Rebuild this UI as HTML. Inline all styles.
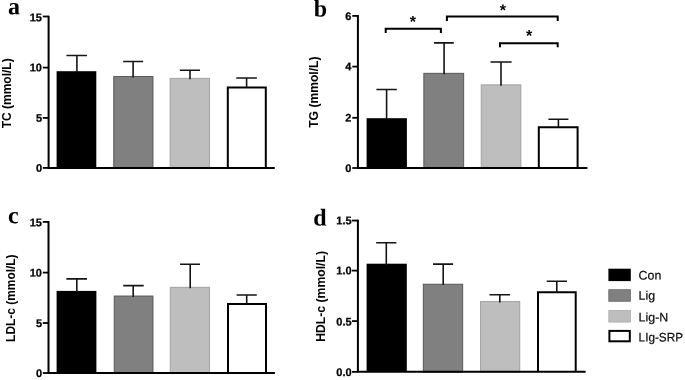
<!DOCTYPE html>
<html><head><meta charset="utf-8"><title>Figure</title>
<style>
html,body{margin:0;padding:0;background:#fff;}
body{width:685px;height:380px;overflow:hidden;}
svg{display:block;will-change:transform;}
text{font-family:"Liberation Sans",Arial,Helvetica,sans-serif;fill:#000;}
.tk{font-size:11px;font-weight:bold;stroke:#000;stroke-width:0.25px;}
.yl{font-size:11.9px;font-weight:bold;}
.pl{font-family:"Liberation Serif","Times New Roman",serif;font-size:24px;font-weight:bold;}
.lg{font-size:12.4px;fill:#0a0a0a;stroke:#0a0a0a;stroke-width:0.2px;}
.st{font-size:16px;font-weight:bold;}
</style></head>
<body>
<svg width="685" height="380" viewBox="0 0 685 380">
<rect width="685" height="380" fill="#fff"/>
<g id="chart-a">
<rect x="56.6" y="71.2" width="39.7" height="96.7" fill="#000"/>
<rect x="113.75" y="76.55" width="39.2" height="91.7" fill="#808080" stroke="#585858" stroke-width="1"/>
<rect x="170.15" y="78.35" width="39.4" height="89.9" fill="#bebebe" stroke="#a2a2a2" stroke-width="1"/>
<path d="M227.8 167.9V87.6H265.8V167.9" fill="#fff" stroke="#000" stroke-width="2" stroke-linejoin="miter"/>
<path d="M66.4 55.5H87M76.9 55.5V72.4" stroke="#151515" stroke-width="1.6" fill="none"/>
<path d="M123.2 61.5H143.2M133.1 61.5V77.4" stroke="#151515" stroke-width="1.6" fill="none"/>
<path d="M179.8 70.2H200M190 70.2V79.2" stroke="#151515" stroke-width="1.6" fill="none"/>
<path d="M236.3 78H256.9M246.6 78V87.8" stroke="#151515" stroke-width="1.6" fill="none"/>
<path d="M48.6 15.65V167.9M47.6 167.9H274.8" stroke="#000" stroke-width="2.0" fill="none"/>
<path d="M42.8 16.5H48.6" stroke="#000" stroke-width="1.8"/>
<text x="42" y="21.35" text-anchor="end" class="tk" transform="rotate(0.04 42 21.35)">15</text>
<path d="M42.8 67.6H48.6" stroke="#000" stroke-width="1.8"/>
<text x="42" y="71.35" text-anchor="end" class="tk" transform="rotate(0.04 42 71.35)">10</text>
<path d="M42.8 117.9H48.6" stroke="#000" stroke-width="1.8"/>
<text x="42" y="121.65" text-anchor="end" class="tk" transform="rotate(0.04 42 121.65)">5</text>
<path d="M42.8 167.9H48.6" stroke="#000" stroke-width="1.8"/>
<text x="42" y="171.65" text-anchor="end" class="tk" transform="rotate(0.04 42 171.65)">0</text>
<text transform="translate(11.2 93.3) rotate(-90)" text-anchor="middle" class="yl" textLength="70" lengthAdjust="spacingAndGlyphs">TC (mmol/L)</text>
<text x="8.0" y="14.25" class="pl" transform="rotate(0.04 8.0 14.25)">a</text>
</g>
<g id="chart-b">
<rect x="366.6" y="118.2" width="40.3" height="49.8" fill="#000"/>
<rect x="423.85" y="73.35" width="39.8" height="95.0" fill="#808080" stroke="#585858" stroke-width="1"/>
<rect x="481.25" y="84.85" width="39.6" height="83.5" fill="#bebebe" stroke="#a2a2a2" stroke-width="1"/>
<path d="M538.8 168.0V127.3H577.6V168.0" fill="#fff" stroke="#000" stroke-width="2" stroke-linejoin="miter"/>
<path d="M376.4 89.5H396.8M386.6 89.5V119.4" stroke="#151515" stroke-width="1.6" fill="none"/>
<path d="M434 42.9H453.8M444.1 42.9V74.2" stroke="#151515" stroke-width="1.6" fill="none"/>
<path d="M490.5 62.0H511.6M501.0 62.0V85.7" stroke="#151515" stroke-width="1.6" fill="none"/>
<path d="M548.4 119.2H568.4M558.4 119.2V127.5" stroke="#151515" stroke-width="1.6" fill="none"/>
<path d="M357.9 15.05V168.0M356.9 168.0H587.4" stroke="#000" stroke-width="2.0" fill="none"/>
<path d="M352.3 15.9H357.9" stroke="#000" stroke-width="1.8"/>
<text x="351.3" y="19.95" text-anchor="end" class="tk" transform="rotate(0.04 351.3 19.95)">6</text>
<path d="M352.3 66.6H357.9" stroke="#000" stroke-width="1.8"/>
<text x="351.3" y="70.35" text-anchor="end" class="tk" transform="rotate(0.04 351.3 70.35)">4</text>
<path d="M352.3 117.8H357.9" stroke="#000" stroke-width="1.8"/>
<text x="351.3" y="121.55" text-anchor="end" class="tk" transform="rotate(0.04 351.3 121.55)">2</text>
<path d="M352.3 168.0H357.9" stroke="#000" stroke-width="1.8"/>
<text x="351.3" y="171.95" text-anchor="end" class="tk" transform="rotate(0.04 351.3 171.95)">0</text>
<text transform="translate(318.3 92.15) rotate(-90)" text-anchor="middle" class="yl" textLength="71.3" lengthAdjust="spacingAndGlyphs">TG (mmol/L)</text>
<text x="313.8" y="16.4" class="pl" transform="rotate(0.04 313.8 16.4)">b</text>
<path d="M385.7 33.0V28.7H440.9V33.0" stroke="#000" stroke-width="2" fill="none" stroke-linejoin="miter"/>
<path d="M446.9 21.0V16.4H557.7V21.0" stroke="#000" stroke-width="2" fill="none" stroke-linejoin="miter"/>
<path d="M500.0 47.3V43.2H557.7V47.3" stroke="#000" stroke-width="2" fill="none" stroke-linejoin="miter"/>
<text x="412.9" y="27.1" text-anchor="middle" class="st" transform="rotate(0.05 412.9 27.1)">*</text>
<text x="502.8" y="15.45" text-anchor="middle" class="st" transform="rotate(0.05 502.8 15.45)">*</text>
<text x="529.2" y="41.05" text-anchor="middle" class="st" transform="rotate(0.05 529.2 41.05)">*</text>
</g>
<g id="chart-c">
<rect x="56.6" y="290.9" width="39.8" height="82.1" fill="#000"/>
<rect x="114.25" y="296.05" width="38.7" height="77.3" fill="#808080" stroke="#585858" stroke-width="1"/>
<rect x="170.25" y="287.35" width="39.3" height="86.0" fill="#bebebe" stroke="#a2a2a2" stroke-width="1"/>
<path d="M228 373.0V303.9H266V373.0" fill="#fff" stroke="#000" stroke-width="2" stroke-linejoin="miter"/>
<path d="M66.4 278.9H87M76.8 278.9V292.1" stroke="#151515" stroke-width="1.6" fill="none"/>
<path d="M123.3 285.6H143.7M133.2 285.6V296.9" stroke="#151515" stroke-width="1.6" fill="none"/>
<path d="M180 264.3H200M190.2 264.3V288.2" stroke="#151515" stroke-width="1.6" fill="none"/>
<path d="M236.6 295.0H256.8M246.7 295.0V304.1" stroke="#151515" stroke-width="1.6" fill="none"/>
<path d="M48.5 221.05V373.0M47.5 373.0H274.9" stroke="#000" stroke-width="2.0" fill="none"/>
<path d="M42.8 221.9H48.5" stroke="#000" stroke-width="1.8"/>
<text x="42" y="226.25" text-anchor="end" class="tk" transform="rotate(0.04 42 226.25)">15</text>
<path d="M42.8 272.6H48.5" stroke="#000" stroke-width="1.8"/>
<text x="42" y="276.45" text-anchor="end" class="tk" transform="rotate(0.04 42 276.45)">10</text>
<path d="M42.8 323.0H48.5" stroke="#000" stroke-width="1.8"/>
<text x="42" y="327.05" text-anchor="end" class="tk" transform="rotate(0.04 42 327.05)">5</text>
<path d="M42.8 373.0H48.5" stroke="#000" stroke-width="1.8"/>
<text x="42" y="377.05" text-anchor="end" class="tk" transform="rotate(0.04 42 377.05)">0</text>
<text transform="translate(15.3 298.15) rotate(-90)" text-anchor="middle" class="yl" textLength="87.5" lengthAdjust="spacingAndGlyphs">LDL-c (mmol/L)</text>
<text x="8.1" y="223.3" class="pl" transform="rotate(0.04 8.1 223.3)">c</text>
</g>
<g id="chart-d">
<rect x="366.6" y="263.7" width="40.2" height="108.15" fill="#000"/>
<rect x="423.35" y="284.25" width="39.3" height="87.95" fill="#808080" stroke="#585858" stroke-width="1"/>
<rect x="480.55" y="301.55" width="39.2" height="70.65" fill="#bebebe" stroke="#a2a2a2" stroke-width="1"/>
<path d="M538.0 371.85V292.2H575.7V371.85" fill="#fff" stroke="#000" stroke-width="2" stroke-linejoin="miter"/>
<path d="M376.2 242.8H396.4M386.3 242.8V264.9" stroke="#151515" stroke-width="1.6" fill="none"/>
<path d="M433 264.1H453.1M443.2 264.1V285.1" stroke="#151515" stroke-width="1.6" fill="none"/>
<path d="M489.5 294.75H510.1M499.8 294.75V302.4" stroke="#151515" stroke-width="1.6" fill="none"/>
<path d="M546.7 281.3H567M556.8 281.3V292.4" stroke="#151515" stroke-width="1.6" fill="none"/>
<path d="M357.9 219.70000000000002V371.85M356.9 371.85H585.6" stroke="#000" stroke-width="2.0" fill="none"/>
<path d="M352 220.55H357.9" stroke="#000" stroke-width="1.8"/>
<text x="351.6" y="224.2" text-anchor="end" class="tk" transform="rotate(0.04 351.6 224.2)">1.5</text>
<path d="M352 270.6H357.9" stroke="#000" stroke-width="1.8"/>
<text x="351.6" y="274.35" text-anchor="end" class="tk" transform="rotate(0.04 351.6 274.35)">1.0</text>
<path d="M352 321.1H357.9" stroke="#000" stroke-width="1.8"/>
<text x="351.6" y="325.45" text-anchor="end" class="tk" transform="rotate(0.04 351.6 325.45)">0.5</text>
<path d="M352 371.85H357.9" stroke="#000" stroke-width="1.8"/>
<text x="351.6" y="376.1" text-anchor="end" class="tk" transform="rotate(0.04 351.6 376.1)">0.0</text>
<text transform="translate(325.3 296.4) rotate(-90)" text-anchor="middle" class="yl" textLength="90.8" lengthAdjust="spacingAndGlyphs">HDL-c (mmol/L)</text>
<text x="313.3" y="225.6" class="pl" transform="rotate(0.04 313.3 225.6)">d</text>
</g>
<g id="legend">
<rect x="608.4" y="268.7" width="22.4" height="12.4" fill="#000"/>
<text x="638.6" y="279.4" class="lg" transform="rotate(0.04 638.6 279.4)">Con</text>
<rect x="608.8" y="289.7" width="21.6" height="11.6" fill="#808080" stroke="#686868" stroke-width="0.8"/>
<text x="638.6" y="299.7" class="lg" transform="rotate(0.04 638.6 299.7)">Lig</text>
<rect x="608.8" y="310.5" width="21.6" height="11.6" fill="#bebebe" stroke="#acacac" stroke-width="0.8"/>
<text x="638.6" y="321.6" class="lg" transform="rotate(0.04 638.6 321.6)">Lig-N</text>
<rect x="609.4" y="330.9" width="20.4" height="10.4" fill="#fff" stroke="#000" stroke-width="2"/>
<text x="638.6" y="341.45" class="lg" textLength="44.4" lengthAdjust="spacingAndGlyphs" transform="rotate(0.04 638.6 341.45)">LIg-SRP</text>
</g>
</svg>
</body></html>
